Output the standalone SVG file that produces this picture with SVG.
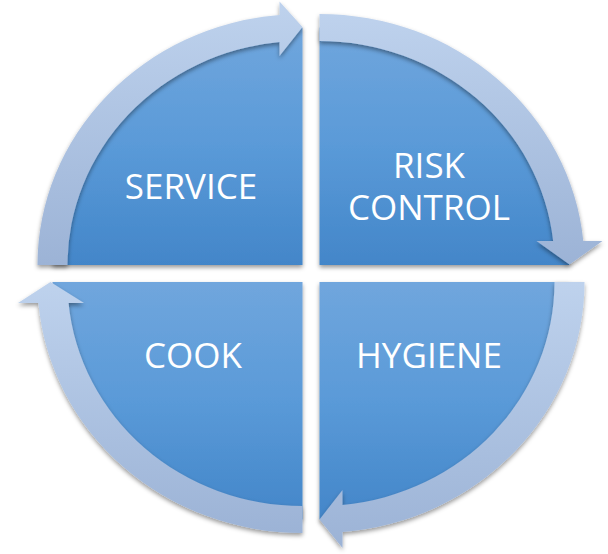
<svg xmlns="http://www.w3.org/2000/svg" width="608" height="554" viewBox="0 0 608 554">
  <defs>
    <linearGradient id="pieFill" x1="0" y1="0" x2="0" y2="1">
      <stop offset="0" stop-color="#70a6dd"/>
      <stop offset="0.5" stop-color="#5a9ad8"/>
      <stop offset="1" stop-color="#4386c9"/>
    </linearGradient>
    <linearGradient id="arrowFill" x1="0" y1="0" x2="0" y2="1">
      <stop offset="0" stop-color="#bed2ed"/>
      <stop offset="1" stop-color="#9cb3d6"/>
    </linearGradient>
    <filter id="shadow" x="-10%" y="-10%" width="120%" height="130%">
      <feDropShadow dx="0" dy="2.5" stdDeviation="2" flood-color="#000" flood-opacity="0.4"/>
    </filter>
  </defs>
  <style>
    .pie { fill: url(#pieFill); filter: url(#shadow); }
    .arrow { fill: url(#arrowFill); filter: url(#shadow); }
    .label { font-family: "Open Sans", "Noto Sans", "Liberation Sans", sans-serif; font-size: 35px; fill: #ffffff; text-anchor: middle; }
  </style>

  <rect width="608" height="554" fill="#ffffff"/>

  <!-- quadrants -->
  <g id="service">
    <path class="pie" d="M302.5,265 L52.5,265 A250,237.5 0 0 1 302.5,27.5 Z"/>
    <text class="label" x="191" y="199">SERVICE</text>
  </g>
  <g id="risk-control">
    <path class="pie" d="M319.5,265 L319.5,27.5 A250,237.5 0 0 1 569.5,265 Z"/>
    <text class="label" x="429" y="178">RISK</text>
    <text class="label" x="429" y="220">CONTROL</text>
  </g>
  <g id="hygiene">
    <path class="pie" d="M319.5,282 L569.5,282 A250,237.5 0 0 1 319.5,519.5 Z"/>
    <text class="label" x="429" y="368">HYGIENE</text>
  </g>
  <g id="cook">
    <path class="pie" d="M302.5,282 L302.5,519.5 A250,237.5 0 0 1 52.5,282 Z"/>
    <text class="label" x="193" y="368">COOK</text>
  </g>

  <!-- curved cycle arrows -->
  <g id="connectors">
    <path class="arrow" d="M37.5,265 A265,251 0 0 1 279.5,14.95 L279.5,1.5 L302.5,27 L279.5,56 L279.5,42.08 A235,224 0 0 0 67.5,265 Z"/>
    <path class="arrow" d="M319.5,14 A265,251 0 0 1 583.29,241 L602.5,241 L569.5,264.5 L536.5,241 L553.15,241 A235,224 0 0 0 319.5,41 Z"/>
    <path class="arrow" d="M584.5,282 A265,251 0 0 1 342.5,532.05 L342.5,548 L319.5,519.5 L342.5,490 L342.5,504.92 A235,224 0 0 0 554.5,282 Z"/>
    <path class="arrow" d="M302.5,533 A265,251 0 0 1 38.43,303 L18,303 L50.5,282 L84,303 L68.53,303 A235,224 0 0 0 302.5,506 Z"/>
  </g>
</svg>
